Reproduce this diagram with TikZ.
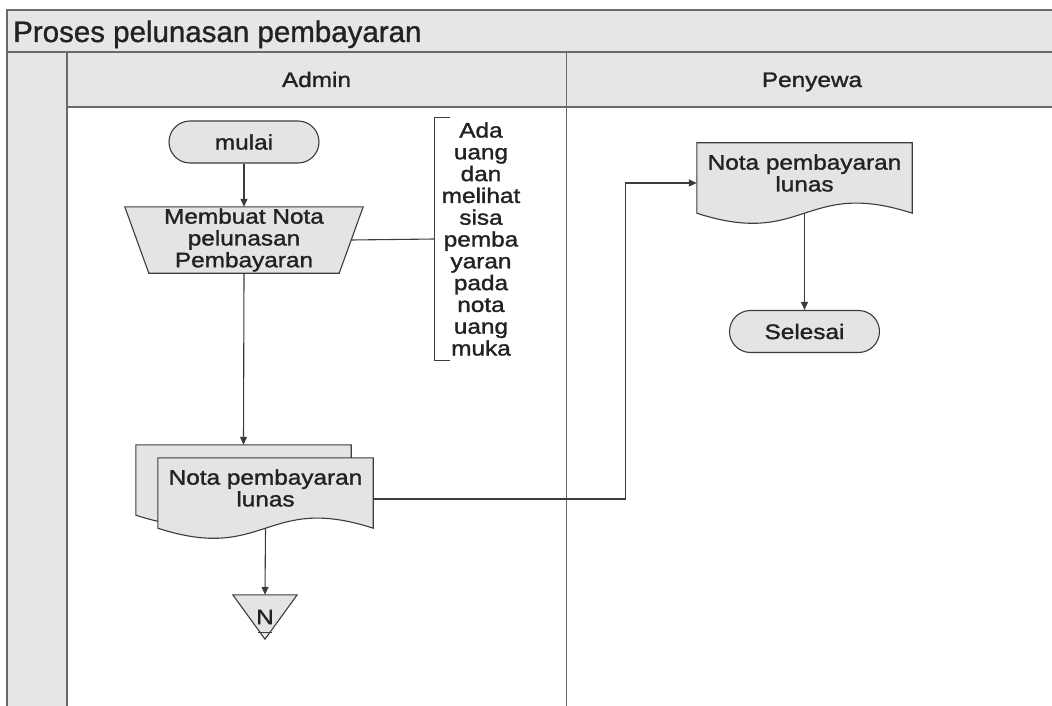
\documentclass[tikz,border=0pt]{standalone}
\usepackage{fontspec}
\setmainfont{Liberation Sans}
\newfontfamily\lblfont[FakeStretch=1.16,FakeBold=1.4]{Liberation Sans}
\newfontfamily\titlefont[FakeBold=1]{Liberation Sans}
\usetikzlibrary{arrows.meta,calc}
\pgfdeclarelayer{lanes}
\pgfdeclarelayer{shapes}
\pgfsetlayers{lanes,shapes,main}

\definecolor{panel}{HTML}{E6E6E6}
\definecolor{shapefill}{HTML}{E4E4E4}
\definecolor{frameline}{HTML}{6A6A6A}
\definecolor{flowline}{HTML}{3C3C3C}
\definecolor{ink}{HTML}{222222}

\tikzset{
  lbl/.style={font=\lblfont\fontsize{21}{21.8}\selectfont, text=ink, align=center, inner sep=0pt},
  terminal/.style={lbl, draw=flowline, fill=shapefill, line width=1.1pt,
    rounded corners=21pt, minimum width=150pt, minimum height=42pt},
  docbox/.style={lbl, minimum width=215pt, minimum height=60pt},
  flow/.style={draw=flowline, line width=1.1pt},
  arrow/.style={flow, -{Triangle[length=8pt,width=7pt]}},
  shapeline/.style={draw=flowline, fill=shapefill, line width=1.1pt},
  lanerule/.style={draw=frameline, line width=1.8pt},
  lanedivider/.style={draw=frameline, line width=1pt},
}

% document symbol: straight sides run 10pt below the text box, wavy bottom edge
\newcommand\docshape[1]{%
  \path[shapeline] (#1.north west) -- (#1.north east) -- ([yshift=-10pt]#1.south east)
    .. controls ($(#1.south)+(0,-25)$) and ($(#1.south)+(0,45)$) ..
    ([yshift=-10pt]#1.south west) -- cycle;}

\begin{document}
\begin{tikzpicture}[x=1pt,y=-1pt]
  \useasboundingbox (0,0) rectangle (1052,706);
  \clip (0,0) rectangle (1052,706);

  % swimlane frame
  \begin{pgfonlayer}{lanes}
    \fill[panel] (7,10) rectangle (1062,107);
    \fill[panel] (7,107) rectangle (67,720);
    \draw[lanerule] (1062,10) -- (7,10) -- (7,720);
    \draw[lanerule] (7,52) -- (1062,52);
    \draw[lanerule] (67,107) -- (1062,107);
    \draw[lanerule] (67,52) -- (67,720);
    \draw[lanedivider] (566,52) -- (566,720);
  \end{pgfonlayer}

  \node[anchor=base west, font=\titlefont\fontsize{29.5}{30}\selectfont, text=ink, inner sep=0pt]
    (title) at (13,42) {Proses pelunasan pembayaran};
  \node[lbl, anchor=base] (admin) at (316.5,87) {Admin};
  \node[lbl, anchor=base] (penyewa) at (812,87) {Penyewa};

  % Admin lane
  \node[terminal] (start) at (244,142) {mulai};
  \node[lbl, minimum width=238pt, minimum height=66pt] (make) at (244,240)
    {Membuat Nota\\pelunasan\\Pembayaran};
  \node[lbl, minimum width=92pt, minimum height=242pt] (note) at (481,239)
    {Ada\\uang\\dan\\melihat\\sisa\\pemba\\yaran\\pada\\nota\\uang\\muka};
  \node[docbox] (mdback) at (243.5,475) {};
  \node[docbox] (md) at (265.5,488) {Nota pembayaran\\lunas};
  \node[lbl, minimum width=64pt, minimum height=48pt] (conn) at (265,617) {N};

  % Penyewa lane
  \node[docbox] (rdoc) at (804.5,173) {Nota pembayaran\\lunas};
  \node[terminal] (finish) at (804.5,331.5) {Selesai};

  % symbol outlines
  \begin{pgfonlayer}{shapes}
    \path[shapeline] (make.north west) -- (make.north east)
      -- ([xshift=-24pt]make.south east) -- ([xshift=24pt]make.south west) -- cycle;
    \docshape{mdback}
    \docshape{md}
    \docshape{rdoc}
    \path[shapeline] ([yshift=-2pt]conn.north west) -- ([yshift=-2pt]conn.north east)
      -- ([yshift=2pt]conn.south) -- cycle;
  \end{pgfonlayer}
  \draw[flow] ($(conn.south)+(-7,-9)$) -- ($(conn.south)+(7,-9)$);

  % annotation bracket
  \draw[flow] ($(note.north west)+(15,0)$) -- (note.north west) -- (note.south west)
    -- ($(note.south west)+(15,0)$);

  % connectors
  \draw[arrow] (start.south) -- (make.north);
  \draw[flow] ([xshift=-12pt]make.east) -- (note.west);
  \draw[arrow] (make.south) -- (mdback.north);
  \draw[arrow] ([yshift=-10pt]md.south) -- ([yshift=-2pt]conn.north);
  \draw[arrow] ([yshift=-11pt]md.east) -- ++(252,0) |- ([yshift=-10pt]rdoc.west);
  \draw[arrow] ([yshift=-10pt]rdoc.south) -- (finish.north);
\end{tikzpicture}
\end{document}
